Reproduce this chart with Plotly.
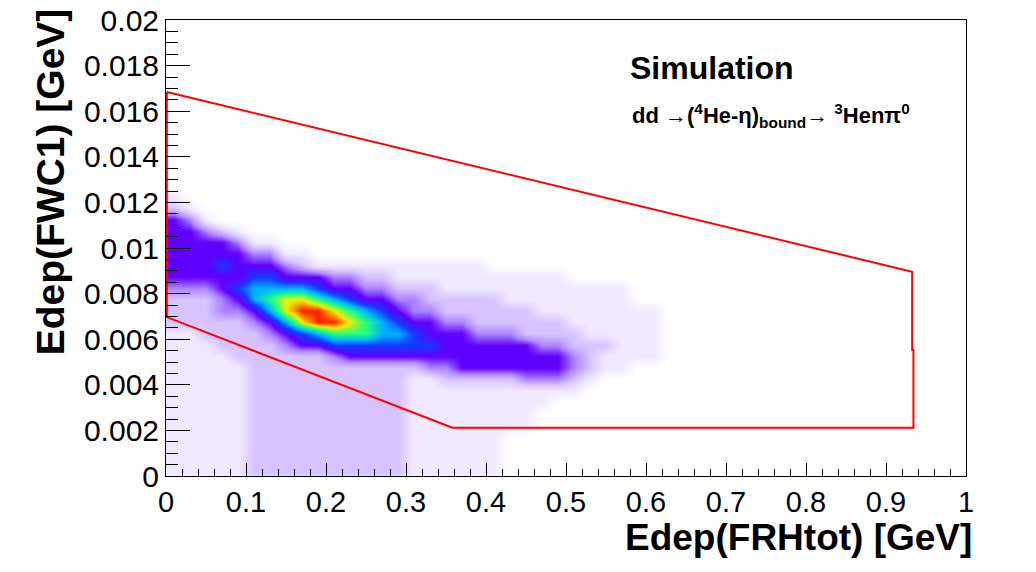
import plotly.graph_objects as go

# Edep(FRHtot) bins: 0.02 GeV wide starting at 0, Edep(FWC1) bins: 0.0005 GeV starting at 0
# density levels (0 = empty ... 9 = peak), rows from top (y=0.0125-0.013) to bottom (y=0-0.0005)
density_rows = [
    "000000000000000000000000000000000000",
    "100000000000000000000000000000000000",
    "210000000000000000000000000000000000",
    "431000000000000000000000000000000000",
    "443210000000000000000000000000000000",
    "444431100000000000000000000000000000",
    "444443311000000000000000000000000000",
    "444544432111111111110000000000000000",
    "444445544433221111111111100000000000",
    "333456666544332221111111111110000000",
    "222346788765443322222111111110000000",
    "222334689987654332222221111111100000",
    "222223468998765443322222211111100000",
    "112222345677766544433322221111100000",
    "111222234455555554444443322211100000",
    "111122222234444444444444432111100000",
    "111112222222222233444444432110000000",
    "111112222222222112222233321000000000",
    "111112222222222111111111110000000000",
    "111112222222222111111111000000000000",
    "111112222222222111111110000000000000",
    "111112222222222111111110000000000000",
    "111112222222222111111000000000000000",
    "111112222222222111111000000000000000",
    "111112222222222111111000000000000000",
    "111112222222222111111000000000000000",
]
assert all(len(r) == 36 for r in density_rows)

# graphical cut drawn in red
cut_x = [0.001, 0.9327, 0.9327, 0.9343, 0.9343, 0.358, 0.001, 0.001]
cut_y = [0.01684, 0.00896, 0.00553, 0.00553, 0.00212, 0.00212, 0.00697, 0.01684]

x_tickvals = [0, 0.1, 0.2, 0.3, 0.4, 0.5, 0.6, 0.7, 0.8, 0.9, 1]
x_ticktext = ["0", "0.1", "0.2", "0.3", "0.4", "0.5", "0.6", "0.7", "0.8", "0.9", "1"]
y_tickvals = [0, 0.002, 0.004, 0.006, 0.008, 0.01, 0.012, 0.014, 0.016, 0.018, 0.02]
y_ticktext = ["0", "0.002", "0.004", "0.006", "0.008", "0.01", "0.012", "0.014", "0.016", "0.018", "0.02"]

z = [[int(c) for c in row] for row in density_rows[::-1]]

# ROOT like rainbow palette, with light tints standing in for the sparse dots
palette = [
    [0 / 9, "#ffffff"],
    [1 / 9, "#f1eaff"],
    [2 / 9, "#d8c3ff"],
    [3 / 9, "#ad85ff"],
    [4 / 9, "#6000ff"],
    [5 / 9, "#1838ff"],
    [6 / 9, "#00b4ff"],
    [7 / 9, "#20ff80"],
    [8 / 9, "#f0f000"],
    [9 / 9, "#ff2000"],
]

fig = go.Figure()
fig.add_trace(go.Heatmap(z=z, x0=0.01, dx=0.02, y0=0.00025, dy=0.0005,
                         colorscale=palette, zmin=0, zmax=9, zsmooth="best",
                         showscale=False, hoverinfo="skip"))
fig.add_trace(go.Scatter(x=cut_x, y=cut_y, mode="lines",
                         line=dict(color="#ff0000", width=2), showlegend=False, hoverinfo="skip"))

# the page body adds an 8px margin, so the figure is 8px smaller than the window
fnt = "Liberation Sans, Arial, sans-serif"
fig.update_layout(
    width=1028, height=564,
    margin=dict(l=158, r=70, t=12, b=96, pad=0),
    paper_bgcolor="white", plot_bgcolor="white",
    font=dict(family=fnt, color="black"),
    showlegend=False,
)
fig.update_xaxes(range=[0, 1], tickvals=x_tickvals, ticktext=x_ticktext, automargin=False,
                 ticklabeloverflow="allow",
                 ticks="inside", ticklen=13, tickwidth=1, tickcolor="black",
                 minor=dict(dtick=0.02, tick0=0, ticks="inside", ticklen=7, tickcolor="black"),
                 showline=True, linecolor="black", linewidth=1, mirror=True,
                 showgrid=False, zeroline=False, tickfont=dict(size=29))
fig.update_yaxes(range=[0, 0.02], tickvals=y_tickvals, ticktext=y_ticktext, automargin=False,
                 ticklabeloverflow="allow",
                 ticks="inside", ticklen=24, tickwidth=1, tickcolor="black",
                 minor=dict(dtick=0.0005, tick0=0, ticks="inside", ticklen=12, tickcolor="black"),
                 showline=True, linecolor="black", linewidth=1, mirror=True,
                 showgrid=False, zeroline=False, tickfont=dict(size=30))

fig.add_annotation(text="<b>Edep(FRHtot) [GeV]</b>", xref="paper", yref="paper",
                   x=0.791, y=-0.134, xanchor="center", yanchor="middle",
                   showarrow=False, font=dict(size=37))
fig.add_annotation(text="<b>Edep(FWC1) [GeV]</b>", xref="paper", yref="paper",
                   x=-0.145, y=0.644, xanchor="center", yanchor="middle", textangle=-90,
                   showarrow=False, font=dict(size=39))
fig.add_annotation(text="<b>Simulation</b>", xref="paper", yref="paper",
                   x=0.578, y=0.895, xanchor="left", yanchor="middle",
                   showarrow=False, font=dict(size=32))
fig.add_annotation(text="<b>dd →(<sup>4</sup>He-η)<sub>bound</sub>→ <sup>3</sup>Henπ<sup>0</sup></b>",
                   xref="paper", yref="paper", x=0.58, y=0.79, xanchor="left", yanchor="middle",
                   showarrow=False, font=dict(size=22))

fig.write_html("out.html")
